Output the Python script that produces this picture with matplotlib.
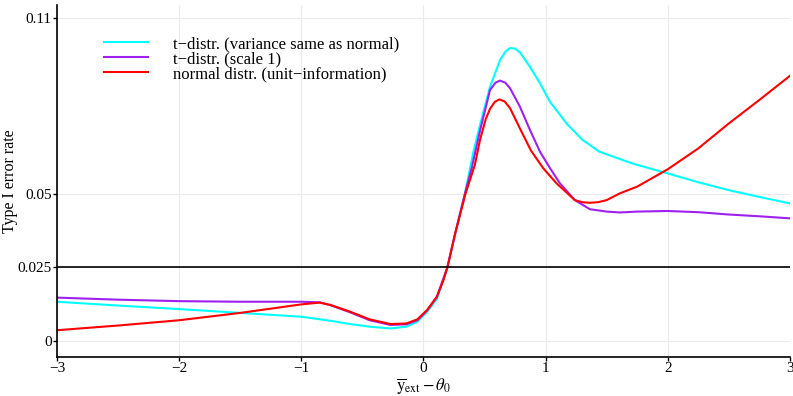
import numpy as np
import matplotlib
matplotlib.use('Agg')
import matplotlib.pyplot as plt

plt.rcParams['font.family'] = ['Liberation Serif', 'DejaVu Serif']
plt.rcParams['mathtext.fontset'] = 'stix'

# values
x_cyan = [-3, -2.5, -2, -1.5, -1, -0.76, -0.6, -0.44, -0.27, -0.14, -0.05, 0.03, 0.11, 0.196,
          0.26, 0.34, 0.382, 0.41, 0.463, 0.545, 0.627, 0.67, 0.709, 0.75, 0.79, 0.872, 0.954,
          1.036, 1.172, 1.3, 1.44, 1.71, 2, 2.25, 2.5, 2.75, 3]
y_cyan = [0.0133, 0.0120, 0.0108, 0.0095, 0.0082, 0.0068, 0.0057, 0.0048, 0.0042, 0.0048, 0.0065,
          0.0099, 0.0143, 0.0250, 0.0366, 0.0502, 0.0588, 0.0645, 0.0735, 0.0865, 0.0956, 0.0984,
          0.0997, 0.0995, 0.0982, 0.0933, 0.0877, 0.0814, 0.0740, 0.0685, 0.0644, 0.0604, 0.0570,
          0.0540, 0.0513, 0.0490, 0.0468]

x_purple = [-3, -2.5, -2, -1.5, -1, -0.85, -0.76, -0.6, -0.44, -0.27, -0.14, -0.05, 0.03, 0.11,
            0.196, 0.26, 0.34, 0.395, 0.463, 0.545, 0.59, 0.627, 0.67, 0.709, 0.79, 0.872, 0.954,
            1.036, 1.118, 1.24, 1.363, 1.5, 1.608, 1.75, 2, 2.25, 2.5, 2.75, 3]
y_purple = [0.0147, 0.0140, 0.0135, 0.0133, 0.0133, 0.0131, 0.0121, 0.0097, 0.0070, 0.0054, 0.0056,
            0.0070, 0.0103, 0.0150, 0.0250, 0.0366, 0.0502, 0.0588, 0.0715, 0.0854, 0.0879, 0.0886,
            0.0879, 0.0860, 0.0797, 0.0718, 0.0644, 0.0588, 0.0536, 0.0479, 0.0448, 0.0440, 0.0437,
            0.0440, 0.0442, 0.0438, 0.0430, 0.0424, 0.0417]

x_red = [-3, -2.5, -2, -1.5, -1, -0.85, -0.76, -0.6, -0.44, -0.27, -0.14, -0.05, 0.03, 0.11,
         0.164, 0.196, 0.26, 0.345, 0.42, 0.463, 0.51, 0.545, 0.585, 0.622, 0.665, 0.709, 0.79,
         0.88, 0.98, 1.09, 1.24, 1.3, 1.363, 1.43, 1.5, 1.608, 1.75, 2, 2.25, 2.5, 2.75, 3]
y_red = [0.0036, 0.0052, 0.0070, 0.0095, 0.0124, 0.0130, 0.0122, 0.0099, 0.0073, 0.0057, 0.0059,
         0.0073, 0.0105, 0.0150, 0.0207, 0.0250, 0.0366, 0.0502, 0.0598, 0.0684, 0.0755, 0.0790,
         0.0814, 0.0822, 0.0815, 0.0792, 0.0723, 0.0648, 0.0588, 0.0536, 0.0479, 0.0472, 0.0470,
         0.0472, 0.0479, 0.0502, 0.0525, 0.0584, 0.0655, 0.0740, 0.0820, 0.0902]

labels = ['t\u2212distr. (variance same as normal)', 't\u2212distr. (scale 1)',
          'normal distr. (unit\u2212information)']
alpha_level = 0.025
yticks = [0, 0.025, 0.05, 0.11]
ytick_labels = ['0', '0.025', '0.05', '0.11']

fig = plt.figure(figsize=(7.93, 3.96), dpi=100)
ax = fig.add_axes([0.072, 0.099, 0.924, 0.888])

ax.plot(x_cyan, y_cyan, color='#00FFFF', lw=1.5, label=labels[0], solid_joinstyle='round')
ax.plot(x_purple, y_purple, color='#A020F0', lw=1.5, label=labels[1], solid_joinstyle='round')
ax.plot(x_red, y_red, color='#FF0000', lw=1.5, label=labels[2], solid_joinstyle='round')
ax.axhline(alpha_level, color='black', lw=1.2)

ax.set_xlim(-3, 3)
ax.set_ylim(-0.00545, 0.1143)
ax.set_xticks([-3, -2, -1, 0, 1, 2, 3])
ax.set_yticks(yticks)
ax.set_yticklabels(ytick_labels)
ax.grid(True, color='#ebebeb', lw=0.8)
ax.set_axisbelow(True)
for s in ['top', 'right']:
    ax.spines[s].set_visible(False)
for s in ['left', 'bottom']:
    ax.spines[s].set_linewidth(1.2)
ax.tick_params(labelsize=11, length=3, width=1, pad=1)

ax.set_ylabel('Type I error rate', fontsize=11.5)
ax.yaxis.set_label_coords(-0.054, 0.5)
ax.set_xlabel(r'$\overline{\mathrm{y}}_{\mathrm{ext}} - \theta_0$', fontsize=12)
ax.xaxis.set_label_coords(0.5, -0.056)

ax.legend(loc='upper left', bbox_to_anchor=(0.052, 0.936), frameon=False, fontsize=12,
          handlelength=2.65, handletextpad=1.5, labelspacing=-0.06, borderpad=0)

plt.savefig('out.png', dpi=100)
